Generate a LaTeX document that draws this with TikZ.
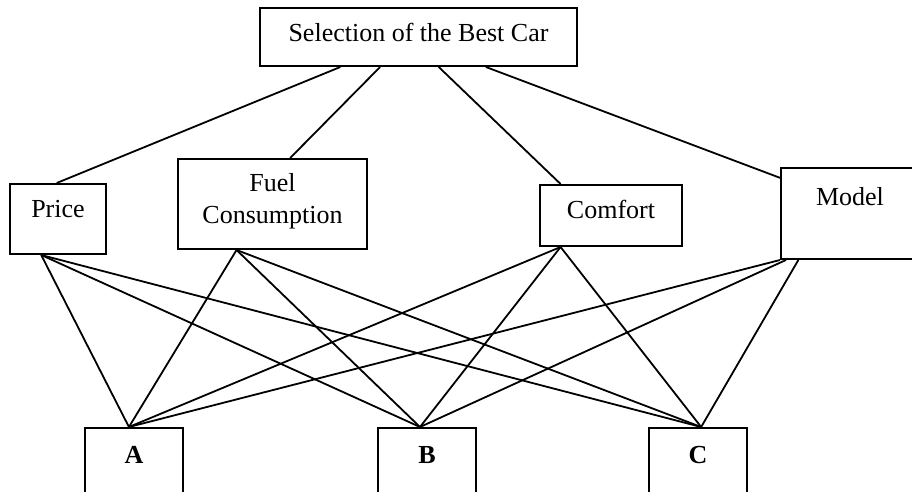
\documentclass[tikz,border=0pt]{standalone}
\usepackage{fontspec}
\setmainfont{Liberation Serif}
\usepackage{tikz}
\tikzset{
    goal/.style = {rectangle, draw=black, line width=1pt, inner sep=0pt, minimum width=158.5pt, text height=17pt, text depth=12pt, font=\fontsize{13}{16}\selectfont},
    criterion/.style = {rectangle, draw=black, line width=1pt, inner sep=0pt, text height=17pt, font=\fontsize{13}{16}\selectfont},
    alternative/.style = {rectangle, draw=black, line width=1pt, inner sep=0pt, minimum width=49pt, text height=17.5pt, text depth=17.5pt, font=\fontsize{13}{16}\selectfont\bfseries},
    link/.style = {line width=0.9pt}
}
\begin{document}
\begin{tikzpicture}[x=0.5pt, y=-0.5pt]
\useasboundingbox (0,0) rectangle (912,492);
\clip (0,0) rectangle (912,492);

\node (best) [goal] at (418.5,37) {Selection of the Best Car};
\node (price) [criterion, minimum width=48pt, text depth=18pt] at (58,219) {Price};
\node (fuel) [criterion, minimum width=94.5pt, text width=80pt, align=center, text height=16.5pt, text depth=28.5pt] at (272.5,204) {Fuel\\Consumption};
\node (comfort) [criterion, minimum width=71pt, text depth=13.5pt] at (611,215.5) {Comfort};
\node (model) [criterion, minimum width=69pt, text height=19pt, text depth=26.5pt] at (850,213.5) {Model};
\node (a) [alternative] at (134,463) {A};
\node (b) [alternative] at (427,463) {B};
\node (c) [alternative] at (698,463) {C};

\draw [link] (best.201) -- (price.92);
\draw [link] (best.218.5) -- (fuel.69);
\draw [link] (best.304) -- (comfort.148);
\draw [link] (best.336) -- (model.153);

\draw [link] (price.245) -- (a.98);
\draw [link] (price.245) -- (b.101);
\draw [link] (price.245) -- (c.85);
\draw [link] (fuel.232) -- (a.98);
\draw [link] (fuel.232) -- (b.101);
\draw [link] (fuel.232) -- (c.85);
\draw [link] (comfort.212) -- (a.98);
\draw [link] (comfort.212) -- (b.101);
\draw [link] (comfort.212) -- (c.85);
\draw [link] (model.south west) -- (a.98);
\draw [link] (model.216) -- (b.101);
\draw [link] (model.222) -- (c.85);
\end{tikzpicture}
\end{document}
